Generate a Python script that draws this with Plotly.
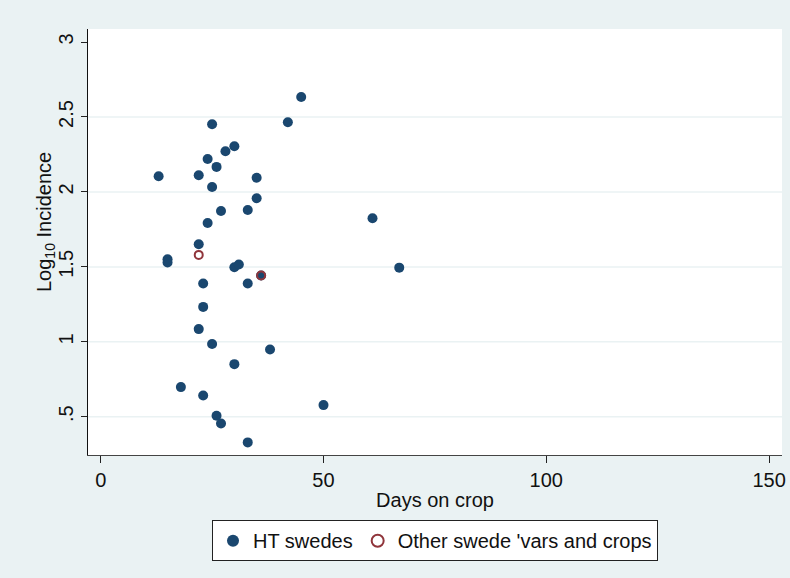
import plotly.graph_objects as go

# Days on crop and log10 incidence for HT swedes
ht_days = [45, 42, 25, 30, 28, 24, 26, 13, 22, 35, 25, 35, 27, 33, 24, 61, 22,
           15, 15, 30, 31, 36, 67, 23, 33, 23, 22, 25, 38, 30, 18, 23, 50, 26, 27, 33]
ht_log_inc = [2.633, 2.465, 2.451, 2.305, 2.271, 2.220, 2.167, 2.105, 2.111, 2.095,
              2.033, 1.958, 1.873, 1.880, 1.793, 1.825, 1.651,
              1.551, 1.529, 1.498, 1.516, 1.442, 1.495, 1.389, 1.389, 1.233, 1.085,
              0.985, 0.949, 0.851, 0.698, 0.642, 0.578, 0.507, 0.455, 0.329]

# Other swede varieties and crops
other_days = [22, 36]
other_log_inc = [1.580, 1.442]

x_ticks = [0, 50, 100, 150]
y_ticks = [0.5, 1, 1.5, 2, 2.5, 3]
y_tick_text = [".5", "1", "1.5", "2", "2.5", "3"]
grid_levels = [0.5, 1, 1.5, 2, 2.5]

NAVY = "#1A476F"
CRANBERRY = "#90353B"
BG = "#EAF2F3"
FONT = "Liberation Sans, Arial, sans-serif"

fig = go.Figure()
fig.add_trace(go.Scatter(
    x=ht_days, y=ht_log_inc, mode="markers", name="HT swedes",
    marker=dict(color=NAVY, size=10, line=dict(width=0)),
))
fig.add_trace(go.Scatter(
    x=other_days, y=other_log_inc, mode="markers", name="Other swede 'vars and crops",
    marker=dict(symbol="circle-open", color=CRANBERRY, size=8, line=dict(width=2, color=CRANBERRY)),
))

for g in grid_levels:
    fig.add_shape(type="line", xref="paper", x0=0, x1=1, yref="y", y0=g, y1=g,
                  line=dict(color=BG, width=1.5), layer="below")

fig.update_layout(
    width=790, height=578,
    margin=dict(l=88, r=8, t=29, b=123, autoexpand=False),
    paper_bgcolor=BG, plot_bgcolor="white",
    font=dict(family=FONT, size=20, color="#111111"),
    showlegend=True,
    legend=dict(
        orientation="h", x=0.5, xanchor="center", y=-0.153, yanchor="top",
        bgcolor="white", bordercolor="#222222", borderwidth=1,
        font=dict(size=20), itemsizing="constant",
    ),
    xaxis=dict(
        range=[-2.85, 152.9], tickvals=x_ticks, showgrid=False, zeroline=False,
        showline=True, linecolor="#444444", linewidth=1,
        ticks="outside", ticklen=7, tickcolor="#222222",
        title=dict(text="Days on crop", standoff=2, font=dict(size=20)),
    ),
    yaxis=dict(
        range=[0.245, 3.087], tickvals=y_ticks, ticktext=y_tick_text, tickangle=-90,
        showgrid=False, zeroline=False,
        showline=True, linecolor="#111111", linewidth=1,
        ticks="outside", ticklen=6, tickcolor="#222222",
    ),
    annotations=[dict(
        text="Log<sub>10</sub> Incidence", textangle=-90,
        xref="paper", yref="paper", x=(45 - 88) / 694, y=(455 - 222) / 426,
        xanchor="center", yanchor="middle", showarrow=False, font=dict(size=20),
    )],
)

fig.write_html("out.html")
